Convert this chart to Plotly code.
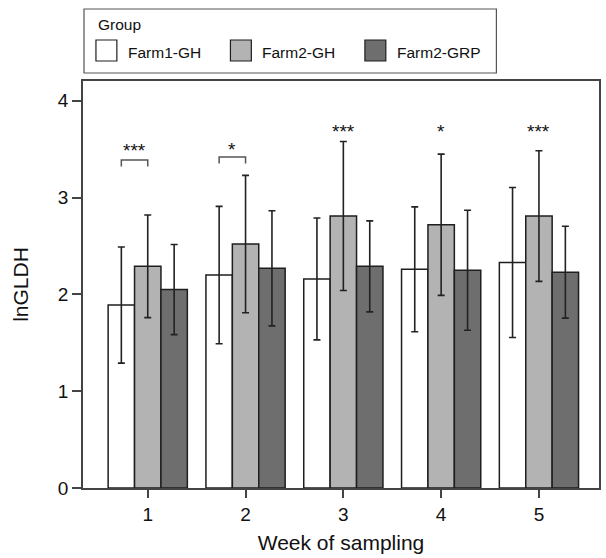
import plotly.graph_objects as go

# ---- data -------------------------------------------------------------
weeks = [1, 2, 3, 4, 5]
week_labels = ["1", "2", "3", "4", "5"]

farm1_gh = [1.89, 2.20, 2.16, 2.26, 2.33]
farm1_gh_sd = [0.60, 0.71, 0.63, 0.645, 0.775]

farm2_gh = [2.29, 2.52, 2.81, 2.72, 2.81]
farm2_gh_sd = [0.53, 0.71, 0.77, 0.73, 0.675]

farm2_grp = [2.05, 2.27, 2.29, 2.25, 2.23]
farm2_grp_sd = [0.465, 0.595, 0.47, 0.62, 0.475]

group_names = ["Farm1-GH", "Farm2-GH", "Farm2-GRP"]
significance = ["***", "*", "***", "*", "***"]
y_ticks = [0, 1, 2, 3, 4]

# ---- styling ----------------------------------------------------------
FONT = "Liberation Sans, Arial, sans-serif"
fills = ["#ffffff", "#b3b3b3", "#6e6e6e"]
edge = "#1e1e1e"
axis_col = "#444444"

W, H = 606, 558
ML, MR, MT, MB = 83, 5, 81, 70
PW, PH = W - ML - MR, H - MT - MB


def px_x(p):
    return (p - ML) / PW


def px_y(p):
    return (H - MB - p) / PH


fig = go.Figure()
series = [(farm1_gh, farm1_gh_sd), (farm2_gh, farm2_gh_sd), (farm2_grp, farm2_grp_sd)]
for name, (vals, sds), col in zip(group_names, series, fills):
    fig.add_trace(go.Bar(
        x=weeks, y=vals, name=name,
        marker=dict(color=col, line=dict(color=edge, width=1.5)),
        error_y=dict(type="data", array=sds, visible=True,
                     color="#222222", thickness=1.6, width=3.5),
        showlegend=False,
    ))

shapes = []
annotations = []

# significance brackets (weeks 1 and 2) and star labels
bar_w = 0.81 / 3
bracket_top = {1: 3.39, 2: 3.42}
star_y = {1: 3.49, 2: 3.50, 3: 3.68, 4: 3.68, 5: 3.68}
for w, s in zip(weeks, significance):
    if w in bracket_top:
        x0, x1 = w - bar_w, w
        yt = bracket_top[w]
        yl = yt - 0.068
        shapes.append(dict(
            type="path", xref="x", yref="y",
            path=f"M {x0},{yl} L {x0},{yt} L {x1},{yt} L {x1},{yl}",
            line=dict(color="#555555", width=1.5),
        ))
        sx = w - bar_w / 2
    else:
        sx = w
    annotations.append(dict(
        x=sx, y=star_y[w], xref="x", yref="y", text=s, showarrow=False,
        xanchor="center", yanchor="middle",
        font=dict(family=FONT, size=19, color="#111111"),
    ))

# legend box drawn in paper coordinates
shapes.append(dict(
    type="rect", xref="paper", yref="paper",
    x0=px_x(84), x1=px_x(498), y0=px_y(73), y1=px_y(9),
    line=dict(color="#555555", width=1.2), fillcolor="rgba(0,0,0,0)",
))
annotations.append(dict(
    x=px_x(96), y=px_y(25), xref="paper", yref="paper", text="Group",
    showarrow=False, xanchor="left", yanchor="middle",
    font=dict(family=FONT, size=15.5, color="#111111"),
))
swatch_x = [96, 231, 366]
for name, col, sx in zip(group_names, fills, swatch_x):
    shapes.append(dict(
        type="rect", xref="paper", yref="paper",
        x0=px_x(sx), x1=px_x(sx + 21), y0=px_y(61), y1=px_y(40),
        line=dict(color=edge, width=1.2), fillcolor=col,
    ))
    annotations.append(dict(
        x=px_x(sx + 30), y=px_y(52), xref="paper", yref="paper", text=name,
        showarrow=False, xanchor="left", yanchor="middle",
        font=dict(family=FONT, size=15.5, color="#111111"),
    ))

fig.update_layout(
    width=W, height=H,
    margin=dict(l=ML, r=MR, t=MT, b=MB, pad=0),
    paper_bgcolor="white", plot_bgcolor="white",
    barmode="group", bargap=0.19, bargroupgap=0,
    font=dict(family=FONT, color="#111111"),
    shapes=shapes, annotations=annotations,
    xaxis=dict(
        range=[0.338, 5.614], tickvals=weeks, ticktext=week_labels,
        ticks="outside", ticklen=8, tickwidth=1.5, tickcolor=axis_col,
        showline=True, linecolor=axis_col, linewidth=1.5, mirror=True,
        showgrid=False, zeroline=False,
        tickfont=dict(family=FONT, size=19, color="#111111"),
        title=dict(text="Week of sampling", standoff=12,
                   font=dict(family=FONT, size=21, color="#111111")),
    ),
    yaxis=dict(
        range=[0, 4.205], tickvals=y_ticks,
        ticks="outside", ticklen=9, tickwidth=1.5, tickcolor=axis_col,
        showline=True, linecolor=axis_col, linewidth=1.5, mirror=True,
        showgrid=False, zeroline=False,
        tickfont=dict(family=FONT, size=19, color="#111111"),
        title=dict(text="lnGLDH", standoff=24,
                   font=dict(family=FONT, size=21, color="#111111")),
    ),
)

fig.write_html("out.html")
